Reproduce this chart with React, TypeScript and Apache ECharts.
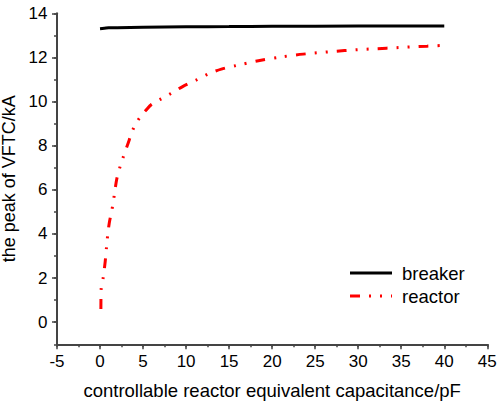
import React, { useEffect, useRef } from "react";
import * as echarts from "echarts";

const breakerData: [number, number][] = [
  [0, 13.3], [0.5, 13.32], [1, 13.34], [2, 13.35], [5, 13.37], [10, 13.39],
  [15, 13.4], [20, 13.41], [30, 13.42], [40, 13.42],
];

const reactorData: [number, number][] = [
  [0.1, 0.6], [0.13, 1.5], [0.36, 2.0], [0.6, 2.75], [0.76, 3.43], [0.88, 3.91],
  [1.07, 4.49], [1.45, 5.24], [1.67, 5.8], [1.95, 6.5], [2.33, 7.05], [2.71, 7.5],
  [3.2, 8.04], [3.9, 8.8], [4.58, 9.25], [5.36, 9.62], [6.0, 9.88], [7.1, 10.12],
  [8.3, 10.38], [9.6, 10.68], [11.2, 10.98], [12.6, 11.26], [14.1, 11.47],
  [15.8, 11.63], [18.4, 11.85], [21, 12.02], [23.6, 12.15], [28.4, 12.31],
  [33.3, 12.42], [38, 12.51], [40, 12.55],
];

const X_MIN = -5;
const X_MAX = 45;
const Y_MIN = -1;
const Y_MAX = 14;
const yMajorTicks = [0, 2, 4, 6, 8, 10, 12, 14];
const legendNames = ["breaker", "reactor"];
const FONT = "Liberation Sans, Arial, sans-serif";
const AXIS_COLOR = "#444";
const REACTOR_DASH = [10, 9, 2, 9, 2, 9];

export default function App() {
  const ref = useRef<HTMLDivElement>(null);
  useEffect(() => {
    if (!ref.current) return;
    const chart = echarts.init(ref.current, undefined, { renderer: "svg" });
    // hidden helper axes (index 1) whose ranges do not cross zero, so the
    // visible axes cannot sit "on zero" and fall back to the grid edges
    chart.setOption({
      animation: false,
      textStyle: { fontFamily: FONT },
      grid: { left: 57, right: 9.7, top: 13.3, bottom: 60.7, outerBoundsMode: "none" },
      xAxis: [
        {
          type: "value",
          min: X_MIN,
          max: X_MAX,
          interval: 5,
          name: "controllable reactor equivalent capacitance/pF",
          nameLocation: "middle",
          nameGap: 37,
          nameTextStyle: { fontSize: 18.5, color: "#000" },
          axisLine: { show: true, onZero: true, onZeroAxisIndex: 1, lineStyle: { color: AXIS_COLOR, width: 2 } },
          axisTick: { show: true, length: 5, lineStyle: { color: AXIS_COLOR, width: 1.5 } },
          axisLabel: { fontSize: 17, color: "#000", margin: 9 },
          splitLine: { show: false },
        },
        { type: "value", min: 1, max: 2, show: false },
        {
          type: "value",
          min: X_MIN,
          max: X_MAX,
          interval: 2.5,
          position: "bottom",
          axisLine: { show: false, onZero: true, onZeroAxisIndex: 1 },
          axisTick: { show: true, length: 3, lineStyle: { color: AXIS_COLOR, width: 1.5 } },
          axisLabel: { show: false },
          splitLine: { show: false },
        },
      ],
      yAxis: [
        {
          type: "value",
          min: Y_MIN,
          max: Y_MAX,
          interval: 1,
          name: "the peak of VFTC/kA",
          nameLocation: "middle",
          nameGap: 34,
          nameTextStyle: { fontSize: 18, color: "#000" },
          axisLine: { show: true, onZero: true, onZeroAxisIndex: 1, lineStyle: { color: AXIS_COLOR, width: 2 } },
          axisTick: { show: true, length: 5, customValues: yMajorTicks, lineStyle: { color: AXIS_COLOR, width: 1.5 } },
          axisLabel: { fontSize: 17, color: "#000", margin: 9.5, customValues: yMajorTicks },
          splitLine: { show: false },
        },
        { type: "value", min: 1, max: 2, show: false },
        {
          type: "value",
          min: Y_MIN,
          max: Y_MAX,
          interval: 1,
          position: "left",
          axisLine: { show: false, onZero: true, onZeroAxisIndex: 1 },
          axisTick: { show: true, length: 3, lineStyle: { color: AXIS_COLOR, width: 1.5 } },
          axisLabel: { show: false },
          splitLine: { show: false },
        },
      ],
      graphic: [
        { type: "line", shape: { x1: 350, y1: 273, x2: 392, y2: 273 }, style: { stroke: "#000", lineWidth: 3 } },
        { type: "text", x: 402, y: 273, style: { text: legendNames[0], fontSize: 18.5, fontFamily: FONT, fill: "#000", verticalAlign: "middle" } },
        { type: "line", shape: { x1: 350, y1: 296, x2: 392, y2: 296 }, style: { stroke: "#ff0000", lineWidth: 3, lineDash: REACTOR_DASH } },
        { type: "text", x: 402, y: 296, style: { text: legendNames[1], fontSize: 18.5, fontFamily: FONT, fill: "#000", verticalAlign: "middle" } },
      ],
      series: [
        {
          name: legendNames[0],
          type: "line",
          xAxisIndex: 0,
          yAxisIndex: 0,
          data: breakerData,
          symbol: "none",
          smooth: true,
          clip: false,
          lineStyle: { color: "#000", width: 3 },
          markLine: {
            silent: true,
            symbol: ["none", "none"],
            label: { show: false },
            emphasis: { disabled: true },
            lineStyle: { color: AXIS_COLOR, width: 2, type: "solid" },
            data: [{ xAxis: X_MIN }, { yAxis: Y_MIN }],
          },
        },
        {
          name: legendNames[1],
          type: "line",
          xAxisIndex: 0,
          yAxisIndex: 0,
          data: reactorData,
          symbol: "none",
          smooth: 0.3,
          clip: false,
          lineStyle: { color: "#ff0000", width: 3, type: REACTOR_DASH },
        },
      ],
    });
    return () => chart.dispose();
  }, []);
  return <div ref={ref} style={{ width: 497, height: 405, position: "absolute", left: 0, top: 0, background: "#fff" }} />;
}
